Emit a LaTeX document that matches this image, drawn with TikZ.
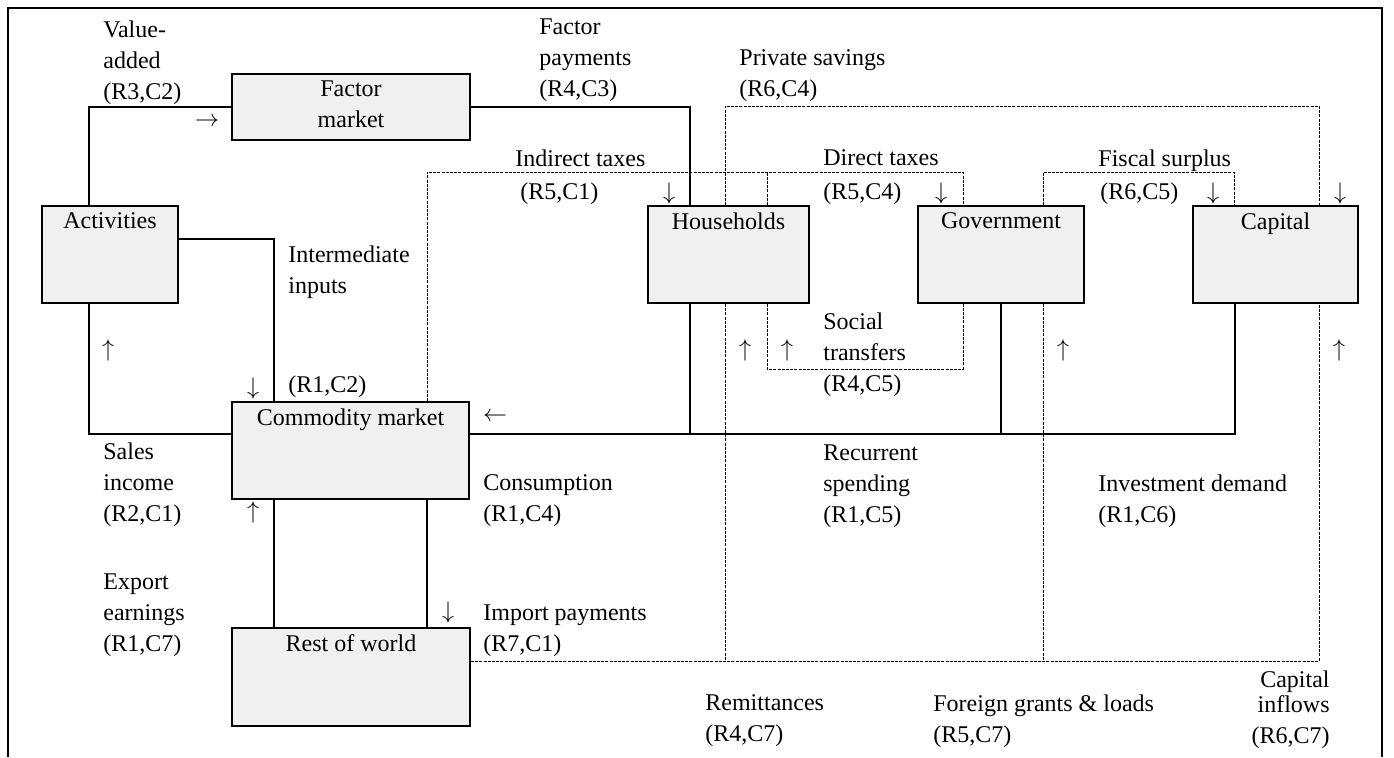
\documentclass[tikz,border=0pt]{standalone}
\usepackage{fontspec}
\setmainfont{Liberation Serif}
\usetikzlibrary{calc}

\tikzset{
  account/.style={rectangle, draw, line width=1pt, fill=black!6, minimum height=48.5pt, inner sep=0pt},
  boxtext/.style={anchor=north, align=center, inner sep=3.5pt},
  flow/.style={line width=0.9pt},
  dashflow/.style={line width=0.5pt, dash pattern=on 1.5pt off 0.6pt},
  note/.style={anchor=north west, align=left, inner sep=0pt},
  sign/.style={inner sep=0pt},
  frame/.style={line width=1pt}
}

\begin{document}
\begin{tikzpicture}[x=0.5pt, y=-0.5pt, font=\fontsize{12}{15.5}\selectfont]
\useasboundingbox (0,0) rectangle (1394,757);
\draw[frame] (8,757) -- (8,8) -- (1382,8) -- (1382,757);

% Accounts
\node[account, minimum width=119pt, minimum height=33pt, label={[boxtext]north:Factor\\market}] (fm) at (351,107) {};
\node[account, minimum width=68pt, label={[boxtext]north:Activities}] (act) at (110,254.5) {};
\node[account, minimum width=80.5pt, label={[boxtext]north:Households}] (hh) at (728.5,254.5) {};
\node[account, minimum width=83pt, label={[boxtext]north:Government}] (gov) at (1001,254.5) {};
\node[account, minimum width=82.5pt, label={[boxtext]north:Capital}] (cap) at (1275.5,254.5) {};
\node[account, minimum width=118.5pt, label={[boxtext]north:Commodity market}] (cm) at (350.5,450.5) {};
\node[account, minimum width=119pt, minimum height=49pt, label={[boxtext]north:Rest of world}] (row) at (351,677) {};

% Real flows
\draw[flow] ($(act.north)+(-21,0)$) |- (fm.west);
\draw[flow] (fm.east) -| ($(hh.north)+(-38.5,0)$);
\draw[flow] ($(act.east)+(0,-15.5)$) -| ($(cm.north)+(-76.5,0)$);
\draw[flow] ($(cm.west)+(0,-16.5)$) -| ($(act.south)+(-21,0)$);
\draw[flow] ($(cm.south)+(-76.5,0)$) coordinate (ex) -- (ex |- row.north);
\draw[flow] ($(cm.south)+(76.5,0)$) coordinate (im) -- (im |- row.north);
\draw[flow] ($(cm.east)+(0,-16.5)$) coordinate (cs) -| ($(cap.south)+(-40.5,0)$);
\draw[flow] ($(hh.south)+(-38.5,0)$) coordinate (hs) -- (hs |- cs);
\draw[flow] (gov.south) -- (gov.south |- cs);

% Money flows
\draw[dashflow] ($(cm.north)+(76.5,0)$) -- ++(0,-229) -| ($(gov.north)+(-38,0)$);
\draw[dashflow] ($(hh.north)+(38.5,0)$) -- ++(0,-33);
\draw[dashflow] ($(hh.north)+(-3.5,0)$) -- ++(0,-99) -| ($(cap.north)+(43.5,0)$);
\draw[dashflow] ($(gov.north)+(42,0)$) -- ++(0,-33) -| ($(cap.north)+(-41.5,0)$);
\draw[dashflow] ($(hh.south)+(38.5,0)$) -- ++(0,65) -| ($(gov.south)+(-38,0)$);
\draw[dashflow] ($(row.east)+(0,-16)$) coordinate (rw) -| ($(cap.south)+(43.5,0)$);
\draw[dashflow] ($(hh.south)+(-3.5,0)$) coordinate (rem) -- (rem |- rw);
\draw[dashflow] ($(gov.south)+(42,0)$) coordinate (frg) -- (frg |- rw);

% Direction signs
\node[sign] (vasign) at (207,122) {$\rightarrow$};
\node[sign] (itsign) at (669,193) {$\downarrow$};
\node[sign] (dtsign) at (941,193) {$\downarrow$};
\node[sign] (fssign) at (1213,193) {$\downarrow$};
\node[sign] (pssign) at (1340,193) {$\downarrow$};
\node[sign] (sisign) at (108,350) {$\uparrow$};
\node[sign] (iisign) at (253,388) {$\downarrow$};
\node[sign] (cosign) at (495,417) {$\leftarrow$};
\node[sign] (rmsign) at (745,350) {$\uparrow$};
\node[sign] (stsign) at (787,350) {$\uparrow$};
\node[sign] (fgsign) at (1063,350) {$\uparrow$};
\node[sign] (cisign) at (1339,350) {$\uparrow$};
\node[sign] (eesign) at (253,512) {$\uparrow$};
\node[sign] (ipsign) at (448,612) {$\downarrow$};

% Flow labels
\node[note] (valueadded) at (103,20) {Value-\\added\\(R3,C2)};
\node[note] (factorpay) at (539,18) {Factor\\payments\\(R4,C3)};
\node[note] (privsav) at (739,49) {Private savings\\(R6,C4)};
\node[note] (indtax) at (515,149) {Indirect taxes};
\node[note] (indtaxrc) at (520,182) {(R5,C1)};
\node[note] (dirtax) at (823,149) {Direct taxes};
\node[note] (dirtaxrc) at (823,182) {(R5,C4)};
\node[note] (fiscal) at (1098,149) {Fiscal surplus};
\node[note] (fiscalrc) at (1100,182) {(R6,C5)};
\node[note] (interm) at (288,245) {Intermediate\\inputs};
\node[note] (intermrc) at (288,375) {(R1,C2)};
\node[note] (sales) at (103,442) {Sales\\income\\(R2,C1)};
\node[note] (export) at (103,573) {Export\\earnings\\(R1,C7)};
\node[note] (consum) at (483,474) {Consumption\\(R1,C4)};
\node[note] (social) at (823,312) {Social\\transfers\\(R4,C5)};
\node[note] (recur) at (823,444) {Recurrent\\spending\\(R1,C5)};
\node[note] (invest) at (1098,474) {Investment demand\\(R1,C6)};
\node[note] (import) at (483,604) {Import payments\\(R7,C1)};
\node[note] (remit) at (705,694) {Remittances\\(R4,C7)};
\node[note] (grants) at (933,694) {Foreign grants \& loads\\(R5,C7)};
\node[note, anchor=north east, align=right] (capin) at (1330,670) {Capital\\[-3pt]inflows\\(R6,C7)};
\end{tikzpicture}
\end{document}
